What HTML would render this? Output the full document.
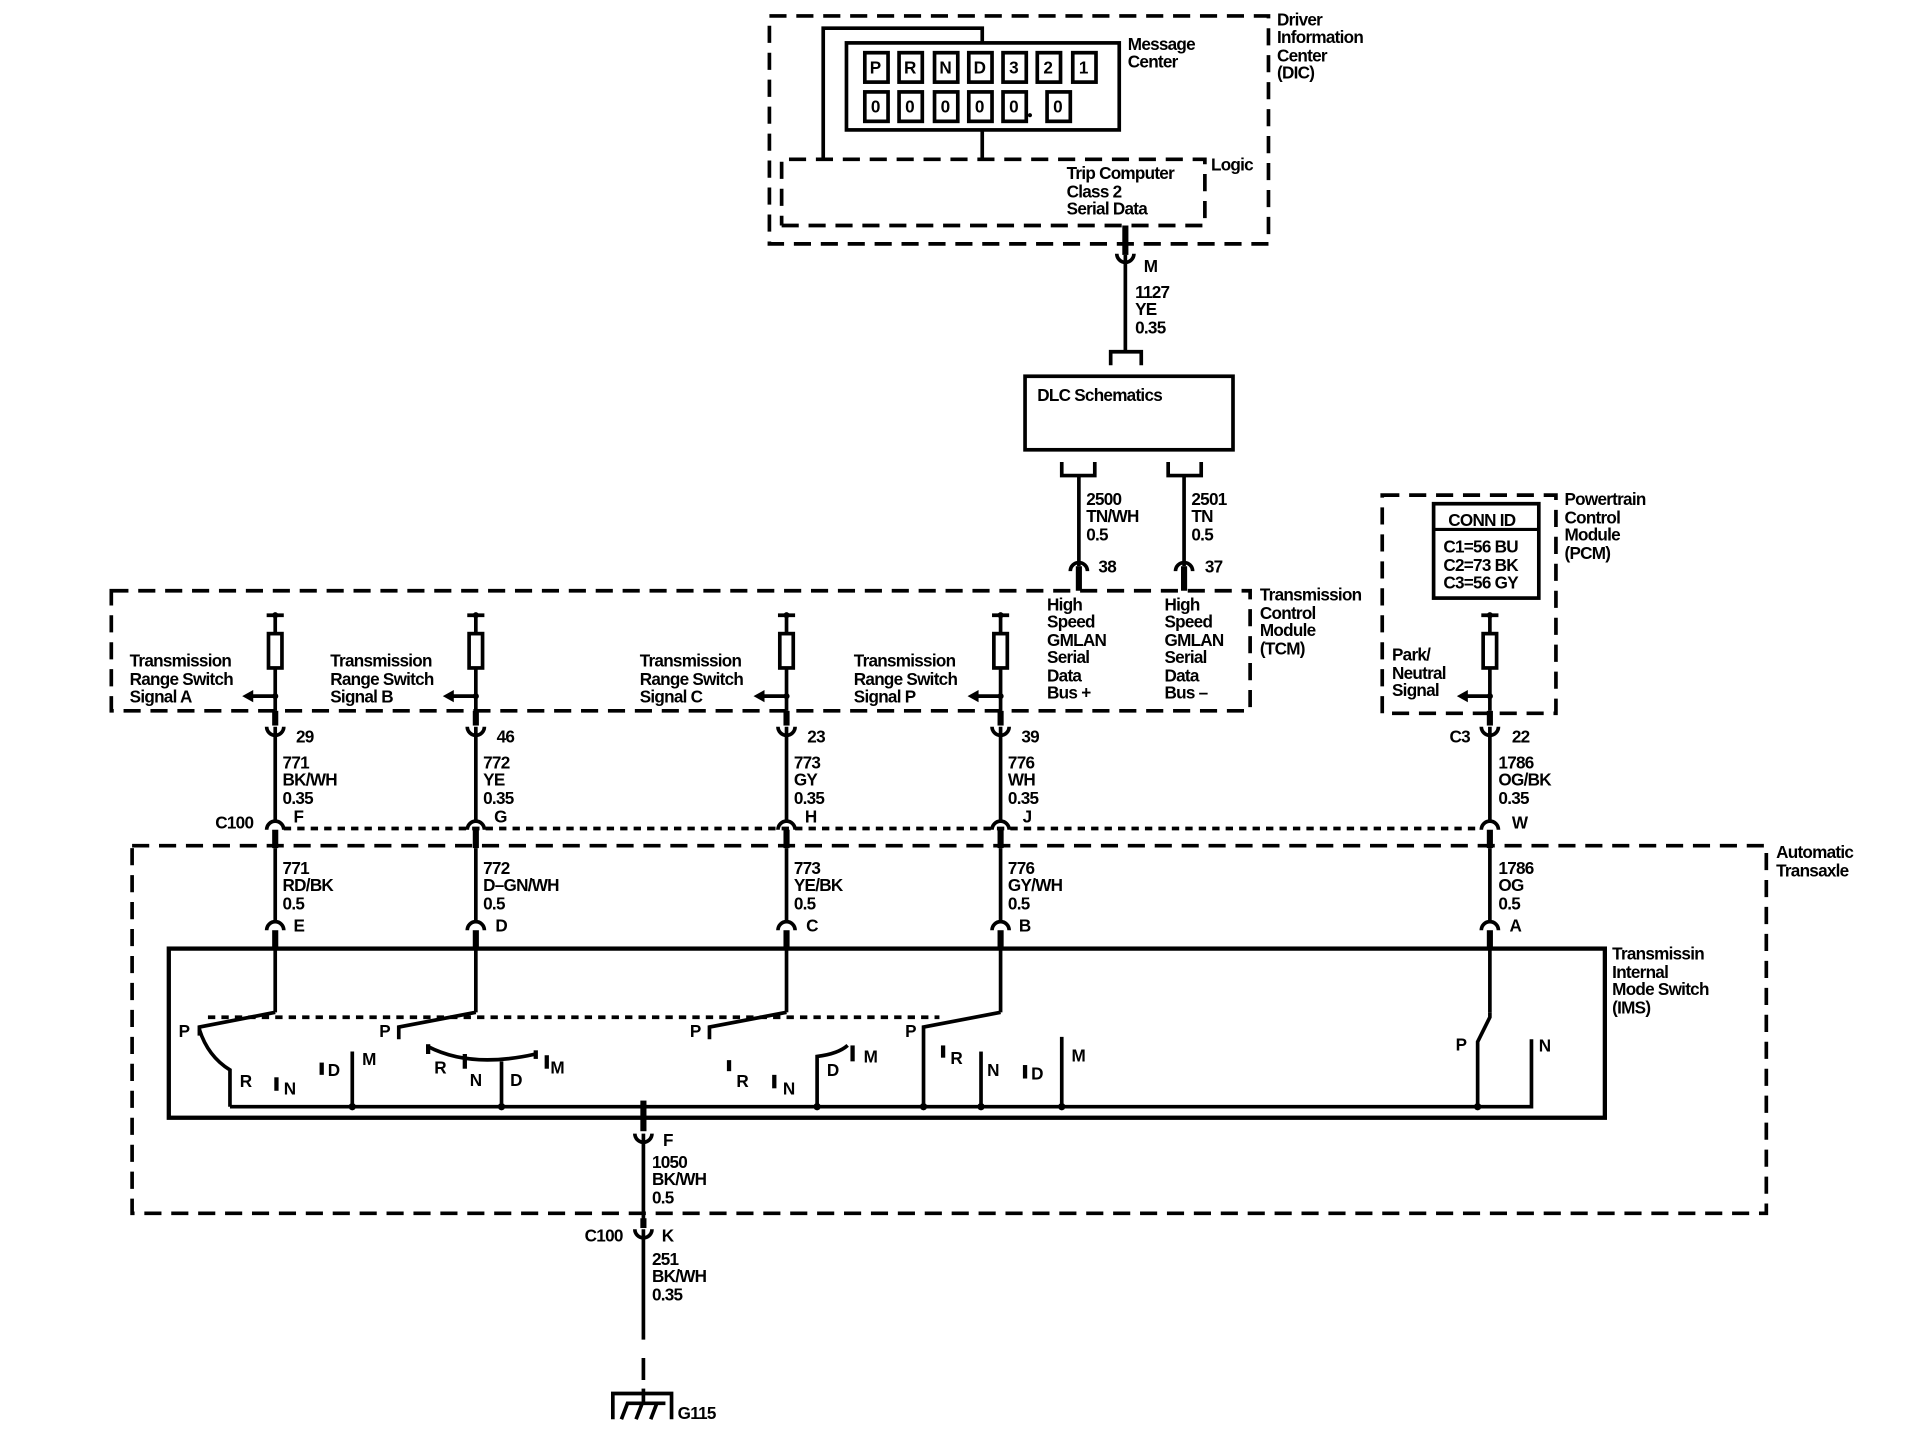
<!DOCTYPE html>
<html><head><meta charset="utf-8"><style>
html,body{margin:0;padding:0;background:#fff;}
svg{display:block;}
text{font-family:"Liberation Sans",sans-serif;font-size:14px;font-weight:bold;fill:#000;letter-spacing:-0.6px;}
.s{font-size:13.5px;}
</style></head><body>
<svg width="1918" height="1456" viewBox="0 0 1568 1188" preserveAspectRatio="none" xmlns="http://www.w3.org/2000/svg">
<g fill="none" stroke="#000">
<!-- DIC -->
<rect x="629" y="13" width="408" height="186" stroke-width="3" stroke-dasharray="14,8"/>
<polyline points="639,184 985,184 985,130 639,130 639,184" stroke-width="3" stroke-dasharray="14,8"/>
<polyline points="673,129 673,23 803,23 803,35" stroke-width="3"/>
<rect x="692" y="35" width="223" height="71" stroke-width="3"/>
<line x1="803" y1="106" x2="803" y2="129" stroke-width="3"/>
<g stroke-width="3">
<rect x="707" y="43" width="19" height="24"/><rect x="735" y="43" width="19" height="24"/><rect x="764" y="43" width="19" height="24"/><rect x="792" y="43" width="19" height="24"/><rect x="820" y="43" width="19" height="24"/><rect x="848" y="43" width="19" height="24"/><rect x="877" y="43" width="19" height="24"/>
<rect x="707" y="75" width="19" height="24"/><rect x="735" y="75" width="19" height="24"/><rect x="764" y="75" width="19" height="24"/><rect x="792" y="75" width="19" height="24"/><rect x="820" y="75" width="19" height="24"/><rect x="856" y="75" width="19" height="24"/>
</g>
<!-- DIC to DLC -->
<line x1="920" y1="184" x2="920" y2="208" stroke-width="5"/>
<line x1="920" y1="208" x2="920" y2="287" stroke-width="3"/>
<path d="M913,207 A7,7 0 0 0 927,207" stroke-width="3"/>
<polyline points="908,298 908,287 933,287 933,298" stroke-width="3"/>
<rect x="838" y="307" width="170" height="60" stroke-width="3"/>
<polyline points="868,377 868,388 895,388 895,377" stroke-width="3"/>
<polyline points="955,377 955,388 982,388 982,377" stroke-width="3"/>
<line x1="882" y1="388" x2="882" y2="462" stroke-width="3"/>
<line x1="968" y1="388" x2="968" y2="462" stroke-width="3"/>
<path d="M875,466 A7,7 0 0 1 889,466" stroke-width="3"/>
<path d="M961,466 A7,7 0 0 1 975,466" stroke-width="3"/>
<line x1="882" y1="462" x2="882" y2="482" stroke-width="5"/>
<line x1="968" y1="462" x2="968" y2="482" stroke-width="5"/>
<!-- TCM -->
<rect x="91" y="482" width="931" height="98" stroke-width="3" stroke-dasharray="14,8"/>
<!-- PCM -->
<rect x="1130" y="404" width="142" height="178" stroke-width="3" stroke-dasharray="14,8"/>
<rect x="1172" y="411" width="86" height="77" stroke-width="3"/>
<line x1="1172" y1="432" x2="1258" y2="432" stroke-width="2.5"/>
<!-- Automatic transaxle -->
<rect x="108" y="690" width="1336" height="300" stroke-width="3" stroke-dasharray="14,8"/>
<!-- C100 dotted -->
<line x1="232" y1="676" x2="1211" y2="676" stroke-width="3" stroke-dasharray="6,5"/>
<!-- IMS -->
<rect x="138" y="774" width="1174" height="138" stroke-width="3.5"/>
<g stroke-width="3">
<g id="colA">
<line x1="218" y1="502" x2="232" y2="502"/>
<line x1="225" y1="502" x2="225" y2="517"/>
<rect x="219.5" y="517" width="11" height="28"/>
<line x1="225" y1="545" x2="225" y2="580"/>
<line x1="225" y1="568" x2="205" y2="568"/>
<line x1="225" y1="580" x2="225" y2="592" stroke-width="5"/>
<path d="M218,593 A7,7 0 0 0 232,593"/>
<line x1="225" y1="593" x2="225" y2="670"/>
<path d="M218,677 A7,7 0 0 1 232,677"/>
<line x1="225" y1="677" x2="225" y2="692" stroke-width="5"/>
<line x1="225" y1="692" x2="225" y2="752"/>
<path d="M218,759 A7,7 0 0 1 232,759"/>
<line x1="225" y1="759" x2="225" y2="775" stroke-width="5"/>
<line x1="225" y1="775" x2="225" y2="826"/>
</g>
<use href="#colA" x="164"/>
<use href="#colA" x="418"/>
<use href="#colA" x="593"/>
<use href="#colA" x="993"/>
</g>
<line x1="170" y1="830" x2="768" y2="830" stroke-width="3" stroke-dasharray="6,5"/>
<g stroke-width="3">
<polyline points="225,826 163,838 163,845"/>
<path d="M163,840 Q170,862 188,873 L188,903"/>
<line x1="288" y1="858" x2="288" y2="903"/>
<polyline points="389,826 326,838 326,848"/>
<path d="M350,854 Q385,872 438,860"/>
<line x1="350" y1="852" x2="350" y2="860" stroke-width="3.5"/>
<line x1="438" y1="857" x2="438" y2="864" stroke-width="3.5"/>
<line x1="410" y1="866" x2="410" y2="903"/>
<polyline points="643,826 580,838 580,848"/>
<path d="M668,903 L668,862 Q685,860 693,853"/>
<polyline points="818,826 755,838 755,903"/>
<line x1="802" y1="858" x2="802" y2="903"/>
<line x1="868" y1="846" x2="868" y2="903"/>
<polyline points="1218,826 1218,830 1208,850 1208,903"/>
<polyline points="1252,848 1252,903 188,903"/>
<line x1="226" y1="879" x2="226" y2="890" stroke-width="3.5"/>
<line x1="380" y1="860" x2="380" y2="872" stroke-width="3.5"/>
<line x1="596" y1="865" x2="596" y2="874" stroke-width="3.5"/>
<line x1="633" y1="877" x2="633" y2="888" stroke-width="3.5"/>
<line x1="697" y1="853" x2="697" y2="866" stroke-width="3.5"/>
<line x1="771" y1="853" x2="771" y2="863" stroke-width="3.5"/>
<line x1="447" y1="861" x2="447" y2="872" stroke-width="3.5"/>
<line x1="263" y1="867" x2="263" y2="877" stroke-width="3.5"/>
<line x1="838" y1="869" x2="838" y2="880" stroke-width="3.5"/>
<line x1="526" y1="898" x2="526" y2="923" stroke-width="5"/>
<path d="M519,925 A7,7 0 0 0 533,925"/>
<line x1="526" y1="925" x2="526" y2="1000"/>
<line x1="526" y1="994" x2="526" y2="1002" stroke-width="5"/>
<path d="M519,1003 A7,7 0 0 0 533,1003"/>
<line x1="526" y1="1003" x2="526" y2="1075"/>
<line x1="526" y1="1075" x2="526" y2="1133" stroke-dasharray="18,15"/>
<polyline points="501,1158 501,1137 549,1137 549,1158"/>
<line x1="526" y1="1133" x2="526" y2="1145"/>
<path d="M508,1158 L513,1145 L544,1145 M520,1158 L525,1145 M532,1158 L537,1145"/>
</g>
</g>
<g fill="#000">
<polygon points="198,568 207,563 207,573"/><polygon points="362,568 371,563 371,573"/><polygon points="616,568 625,563 625,573"/><polygon points="791,568 800,563 800,573"/><polygon points="1191,568 1200,563 1200,573"/>
<circle cx="225" cy="568" r="2.5"/><circle cx="389" cy="568" r="2.5"/><circle cx="643" cy="568" r="2.5"/><circle cx="818" cy="568" r="2.5"/><circle cx="1218" cy="568" r="2.5"/>
<circle cx="225" cy="502" r="2.5"/><circle cx="389" cy="502" r="2.5"/><circle cx="643" cy="502" r="2.5"/><circle cx="818" cy="502" r="2.5"/><circle cx="1218" cy="502" r="2.5"/>
<circle cx="288" cy="903" r="3"/><circle cx="410" cy="903" r="3"/><circle cx="526" cy="903" r="3"/><circle cx="668" cy="903" r="3"/><circle cx="755" cy="903" r="3"/><circle cx="802" cy="903" r="3"/><circle cx="868" cy="903" r="3"/><circle cx="1208" cy="903" r="3"/>
<circle cx="842" cy="94" r="1.7"/>
</g>
<g class="s">
<text x="711" y="60">P</text><text x="739" y="60">R</text><text x="768" y="60">N</text><text x="796" y="60">D</text><text x="825" y="60">3</text><text x="853" y="60">2</text><text x="882" y="60">1</text>
<text x="712" y="92">0</text><text x="740" y="92">0</text><text x="769" y="92">0</text><text x="797" y="92">0</text><text x="825" y="92">0</text><text x="861" y="92">0</text>
</g>
<text x="922" y="41">Message</text><text x="922" y="55">Center</text>
<text x="1044" y="21">Driver</text><text x="1044" y="35">Information</text><text x="1044" y="50">Center</text><text x="1044" y="64">(DIC)</text>
<text x="990" y="139">Logic</text>
<text x="872" y="146">Trip Computer</text><text x="872" y="161">Class 2</text><text x="872" y="175">Serial Data</text>
<text x="935" y="222">M</text>
<text x="928" y="243">1127</text><text x="928" y="257">YE</text><text x="928" y="272">0.35</text>
<text x="848" y="327">DLC Schematics</text>
<text x="888" y="412">2500</text><text x="888" y="426">TN/WH</text><text x="888" y="441">0.5</text>
<text x="974" y="412">2501</text><text x="974" y="426">TN</text><text x="974" y="441">0.5</text>
<text x="898" y="467">38</text><text x="985" y="467">37</text>
<text x="856" y="498">High</text><text x="856" y="512">Speed</text><text x="856" y="527">GMLAN</text><text x="856" y="541">Serial</text><text x="856" y="556">Data</text><text x="856" y="570">Bus +</text>
<text x="952" y="498">High</text><text x="952" y="512">Speed</text><text x="952" y="527">GMLAN</text><text x="952" y="541">Serial</text><text x="952" y="556">Data</text><text x="952" y="570">Bus –</text>
<text x="1030" y="490">Transmission</text><text x="1030" y="505">Control</text><text x="1030" y="519">Module</text><text x="1030" y="534">(TCM)</text>
<text x="1279" y="412">Powertrain</text><text x="1279" y="427">Control</text><text x="1279" y="441">Module</text><text x="1279" y="456">(PCM)</text>
<text x="1184" y="429">CONN ID</text>
<text x="1180" y="451">C1=56 BU</text><text x="1180" y="466">C2=73 BK</text><text x="1180" y="480">C3=56 GY</text>
<text x="1138" y="539">Park/</text><text x="1138" y="554">Neutral</text><text x="1138" y="568">Signal</text>
<text x="106" y="544">Transmission</text><text x="106" y="559">Range Switch</text><text x="106" y="573">Signal A</text>
<text x="270" y="544">Transmission</text><text x="270" y="559">Range Switch</text><text x="270" y="573">Signal B</text>
<text x="523" y="544">Transmission</text><text x="523" y="559">Range Switch</text><text x="523" y="573">Signal C</text>
<text x="698" y="544">Transmission</text><text x="698" y="559">Range Switch</text><text x="698" y="573">Signal P</text>
<text x="242" y="606">29</text><text x="406" y="606">46</text><text x="660" y="606">23</text><text x="835" y="606">39</text><text x="1185" y="606">C3</text><text x="1236" y="606">22</text>
<text x="231" y="627">771</text><text x="231" y="641">BK/WH</text><text x="231" y="656">0.35</text>
<text x="395" y="627">772</text><text x="395" y="641">YE</text><text x="395" y="656">0.35</text>
<text x="649" y="627">773</text><text x="649" y="641">GY</text><text x="649" y="656">0.35</text>
<text x="824" y="627">776</text><text x="824" y="641">WH</text><text x="824" y="656">0.35</text>
<text x="1225" y="627">1786</text><text x="1225" y="641">OG/BK</text><text x="1225" y="656">0.35</text>
<text x="176" y="676">C100</text><text x="240" y="671">F</text><text x="404" y="671">G</text><text x="658" y="671">H</text><text x="836" y="671">J</text><text x="1236" y="676">W</text>
<text x="1452" y="700">Automatic</text><text x="1452" y="715">Transaxle</text>
<text x="231" y="713">771</text><text x="231" y="727">RD/BK</text><text x="231" y="742">0.5</text>
<text x="395" y="713">772</text><text x="395" y="727">D–GN/WH</text><text x="395" y="742">0.5</text>
<text x="649" y="713">773</text><text x="649" y="727">YE/BK</text><text x="649" y="742">0.5</text>
<text x="824" y="713">776</text><text x="824" y="727">GY/WH</text><text x="824" y="742">0.5</text>
<text x="1225" y="713">1786</text><text x="1225" y="727">OG</text><text x="1225" y="742">0.5</text>
<text x="240" y="760">E</text><text x="405" y="760">D</text><text x="659" y="760">C</text><text x="833" y="760">B</text><text x="1234" y="760">A</text>
<text x="1318" y="783">Transmissin</text><text x="1318" y="798">Internal</text><text x="1318" y="812">Mode Switch</text><text x="1318" y="827">(IMS)</text>
<g class="s">
<text x="146" y="846">P</text><text x="196" y="887">R</text><text x="232" y="893">N</text><text x="268" y="878">D</text><text x="296" y="869">M</text>
<text x="310" y="846">P</text><text x="355" y="876">R</text><text x="384" y="886">N</text><text x="417" y="886">D</text><text x="450" y="876">M</text>
<text x="564" y="846">P</text><text x="602" y="887">R</text><text x="640" y="893">N</text><text x="676" y="878">D</text><text x="706" y="867">M</text>
<text x="740" y="846">P</text><text x="777" y="868">R</text><text x="807" y="878">N</text><text x="843" y="881">D</text><text x="876" y="866">M</text>
<text x="1190" y="857">P</text><text x="1258" y="858">N</text>
</g>
<text x="542" y="935">F</text>
<text x="533" y="953">1050</text><text x="533" y="967">BK/WH</text><text x="533" y="982">0.5</text>
<text x="478" y="1013">C100</text><text x="541" y="1013">K</text>
<text x="533" y="1032">251</text><text x="533" y="1046">BK/WH</text><text x="533" y="1061">0.35</text>
<text x="554" y="1158">G115</text>
</svg>
</body></html>
